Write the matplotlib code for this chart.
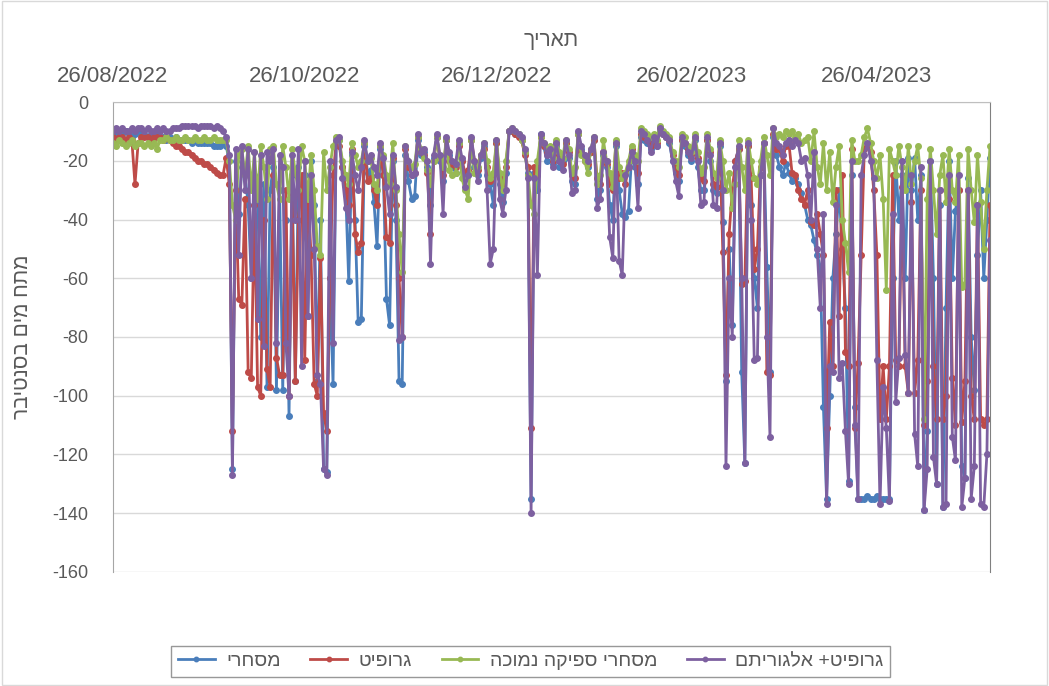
import matplotlib
matplotlib.use('Agg')
import matplotlib.pyplot as plt
import matplotlib.dates as mdates
import pandas as pd

plt.rcParams['font.family'] = ['Liberation Sans', 'DejaVu Sans']
plt.rcParams['axes.unicode_minus'] = False

# daily readings, 26/08/2022 .. 01/06/2023
dates = pd.date_range('2022-08-26', periods=280, freq='D')

# מסחרי
commercial = [
    -11, -11, -12, -11, -10, -11, -12, -11, -10, -11,
    -11, -12, -11, -12, -11, -12, -12, -13, -12, -13,
    -12, -13, -13, -13, -13, -14, -13, -14, -14, -14,
    -14, -14, -15, -15, -15, -14, -15, -20, -125, -20,
    -38, -22, -25, -35, -60, -25, -30, -80, -28, -97,
    -30, -22, -98, -30, -98, -40, -107, -25, -95, -22,
    -30, -25, -73, -20, -35, -95, -40, -125, -126, -60,
    -96, -14, -13, -22, -30, -61, -18, -40, -75, -74,
    -15, -24, -23, -34, -49, -16, -25, -67, -76, -20,
    -40, -95, -96, -18, -27, -33, -32, -13, -18, -17,
    -22, -35, -19, -12, -20, -27, -13, -18, -22, -24,
    -14, -20, -26, -25, -13, -22, -25, -19, -15, -25,
    -28, -35, -14, -28, -34, -24, -10, -10, -11, -11,
    -13, -17, -24, -135, -24, -30, -11, -15, -20, -17,
    -21, -15, -22, -20, -14, -19, -27, -28, -11, -16,
    -19, -22, -17, -13, -33, -30, -18, -22, -35, -40,
    -15, -30, -38, -39, -37, -18, -22, -28, -12, -13,
    -14, -16, -13, -15, -10, -11, -12, -14, -20, -24,
    -27, -13, -15, -18, -20, -13, -22, -30, -30, -13,
    -20, -30, -31, -15, -41, -95, -50, -76, -20, -16,
    -92, -123, -15, -35, -60, -70, -25, -14, -56, -92,
    -12, -18, -22, -25, -21, -24, -27, -26, -28, -31,
    -35, -40, -42, -47, -52, -56, -104, -135, -100, -60,
    -45, -30, -50, -70, -129, -25, -104, -135, -135, -135,
    -134, -135, -135, -134, -135, -135, -135, -135, -60, -20,
    -40, -25, -60, -19, -30, -19, -40, -25, -139, -112,
    -20, -60, -130, -35, -138, -70, -20, -60, -37, -30,
    -124, -128, -26, -80, -98, -52, -30, -60, -40, -19,
]

# גרופיט
graphite = [
    -12, -13, -12, -12, -13, -12, -13, -28, -14, -12,
    -12, -12, -13, -12, -12, -12, -13, -12, -13, -14,
    -15, -15, -16, -17, -17, -18, -19, -20, -20, -21,
    -21, -22, -23, -24, -25, -25, -19, -28, -112, -30,
    -67, -69, -33, -92, -94, -35, -97, -100, -40, -91,
    -97, -25, -87, -93, -93, -30, -100, -32, -95, -40,
    -25, -88, -30, -52, -96, -100, -53, -106, -112, -60,
    -25, -14, -15, -22, -30, -35, -16, -45, -51, -48,
    -14, -27, -26, -30, -35, -15, -25, -46, -48, -19,
    -35, -60, -80, -16, -22, -25, -24, -12, -17, -18,
    -24, -45, -20, -12, -19, -25, -13, -20, -21, -22,
    -15, -20, -24, -23, -13, -20, -23, -18, -16, -22,
    -27, -25, -14, -26, -28, -22, -10, -10, -11, -12,
    -13, -18, -22, -111, -22, -25, -12, -15, -17, -16,
    -20, -14, -18, -21, -14, -17, -25, -26, -11, -17,
    -20, -21, -17, -13, -26, -28, -17, -21, -28, -30,
    -14, -26, -24, -28, -22, -16, -20, -24, -11, -12,
    -13, -15, -12, -14, -9, -11, -12, -13, -18, -22,
    -25, -13, -14, -16, -18, -12, -19, -26, -27, -13,
    -17, -28, -29, -14, -51, -93, -45, -30, -20, -16,
    -62, -61, -15, -26, -57, -50, -22, -14, -92, -93,
    -11, -16, -16, -20, -15, -14, -24, -25, -30, -33,
    -35, -30, -41, -42, -38, -45, -52, -111, -75, -90,
    -30, -73, -25, -85, -90, -16, -111, -89, -52, -16,
    -15, -17, -30, -52, -108, -90, -108, -90, -25, -88,
    -90, -29, -90, -99, -34, -99, -88, -30, -110, -95,
    -28, -90, -108, -30, -108, -100, -33, -94, -110, -30,
    -109, -95, -30, -100, -108, -35, -108, -110, -108, -35,
]

# מסחרי ספיקה נמוכה
low_flow = [
    -14, -15, -13, -14, -15, -14, -13, -15, -14, -14,
    -15, -14, -15, -14, -16, -13, -13, -12, -13, -13,
    -12, -13, -13, -12, -13, -13, -12, -13, -13, -12,
    -13, -13, -12, -13, -13, -13, -13, -20, -35, -40,
    -18, -16, -25, -15, -30, -17, -33, -15, -22, -33,
    -16, -15, -28, -33, -15, -22, -33, -16, -24, -30,
    -15, -20, -33, -18, -30, -49, -52, -17, -30, -22,
    -15, -12, -13, -20, -25, -28, -14, -18, -22, -20,
    -14, -20, -19, -28, -30, -15, -18, -25, -28, -14,
    -30, -45, -58, -15, -20, -22, -21, -12, -16, -19,
    -23, -28, -20, -12, -19, -22, -13, -23, -25, -24,
    -14, -26, -30, -33, -13, -24, -22, -18, -14, -20,
    -26, -24, -13, -24, -30, -20, -10, -9, -10, -11,
    -13, -17, -25, -35, -38, -20, -12, -14, -16, -15,
    -19, -13, -17, -19, -13, -16, -24, -22, -11, -18,
    -20, -24, -16, -12, -28, -25, -13, -20, -24, -29,
    -13, -22, -26, -24, -20, -15, -18, -20, -9, -10,
    -11, -12, -11, -13, -8, -10, -11, -12, -17, -20,
    -22, -11, -12, -15, -17, -11, -17, -24, -22, -11,
    -16, -24, -26, -13, -20, -30, -24, -36, -28, -13,
    -22, -30, -13, -20, -26, -28, -20, -12, -18, -25,
    -9, -12, -11, -12, -10, -11, -10, -12, -11, -14,
    -13, -12, -20, -10, -22, -28, -14, -30, -17, -34,
    -22, -15, -40, -48, -58, -13, -20, -20, -18, -12,
    -9, -14, -20, -26, -18, -33, -64, -16, -20, -25,
    -15, -22, -30, -15, -28, -20, -15, -26, -108, -33,
    -16, -30, -45, -25, -18, -34, -16, -30, -34, -18,
    -63, -62, -16, -30, -41, -18, -34, -50, -30, -15,
]

# גרופיט+ אלגוריתם
graphite_algo = [
    -10, -9, -10, -9, -10, -10, -9, -10, -9, -9,
    -10, -9, -10, -10, -9, -10, -9, -10, -10, -9,
    -9, -9, -8, -8, -8, -8, -8, -9, -8, -8,
    -8, -8, -9, -8, -9, -10, -12, -18, -127, -16,
    -52, -15, -30, -16, -60, -17, -74, -18, -83, -17,
    -20, -16, -82, -18, -22, -82, -100, -18, -40, -16,
    -90, -20, -73, -25, -50, -93, -96, -125, -127, -20,
    -82, -13, -12, -26, -36, -40, -17, -25, -30, -22,
    -13, -20, -18, -22, -25, -14, -19, -29, -38, -18,
    -29, -81, -80, -15, -20, -25, -24, -11, -17, -16,
    -20, -55, -18, -11, -18, -38, -12, -17, -20, -21,
    -13, -19, -29, -25, -12, -20, -27, -18, -14, -30,
    -55, -50, -13, -33, -38, -30, -10, -9, -10, -11,
    -12, -16, -26, -140, -26, -59, -11, -14, -18, -16,
    -22, -14, -20, -23, -13, -18, -31, -30, -10, -15,
    -18, -20, -16, -12, -36, -33, -17, -20, -46, -53,
    -14, -54, -59, -25, -22, -17, -20, -36, -10, -11,
    -13, -17, -12, -15, -9, -11, -12, -13, -20, -27,
    -32, -12, -14, -17, -19, -12, -20, -35, -34, -12,
    -18, -35, -36, -14, -30, -124, -60, -80, -22, -15,
    -60, -123, -14, -40, -88, -87, -25, -14, -80, -114,
    -9, -14, -15, -18, -14, -13, -15, -13, -14, -20,
    -19, -25, -40, -17, -50, -70, -38, -137, -90, -92,
    -35, -94, -89, -112, -130, -20, -110, -135, -25, -18,
    -14, -20, -26, -88, -137, -97, -111, -136, -38, -102,
    -87, -20, -86, -99, -25, -113, -124, -22, -139, -125,
    -20, -121, -130, -30, -138, -137, -25, -114, -122, -25,
    -138, -128, -30, -135, -124, -35, -137, -138, -120, -47,
]

series_names = ['מסחרי', 'גרופיט', 'מסחרי ספיקה נמוכה', 'גרופיט+ אלגוריתם']
series_colors = ['#4A7EBB', '#BE4B48', '#98B954', '#7D60A0']
tick_dates = ['2022-08-26', '2022-10-26', '2022-12-26', '2023-02-26', '2023-04-26']
x_title = 'תאריך'
y_title = 'מתח מים בסנטיבר'

txt = '#595959'

fig = plt.figure(figsize=(10.49, 6.86), dpi=100)
ax = fig.add_axes([0.1077, 0.1662, 0.8361, 0.6851])

for vals, name, col in zip([commercial, graphite, low_flow, graphite_algo], series_names, series_colors):
    # hebrew is drawn left-to-right by matplotlib, so reverse it for display
    ax.plot(dates, vals, color=col, lw=2, marker='o', markersize=4, label=name[::-1])

ax.set_ylim(-160, 0)
ax.set_yticks(range(-160, 1, 20))
ax.set_xlim(pd.Timestamp('2022-08-26'), pd.Timestamp('2023-06-01'))
ax.set_xticks(pd.to_datetime(tick_dates))
ax.xaxis.set_major_formatter(mdates.DateFormatter('%d/%m/%Y'))
ax.xaxis.tick_top()
ax.xaxis.set_label_position('top')
ax.tick_params(axis='both', length=0, colors=txt)
ax.tick_params(axis='x', labelsize=16, pad=11)
ax.tick_params(axis='y', labelsize=13, pad=18)

ax.grid(axis='y', color='#d9d9d9', lw=1)
ax.set_axisbelow(True)
ax.spines['top'].set_color('#bfbfbf')
ax.spines['left'].set_color('#a6a6a6')
ax.spines['right'].set_color('#808080')
ax.spines['right'].set_linewidth(0.8)
ax.spines['bottom'].set_visible(False)

ax.set_xlabel(x_title[::-1], fontsize=15, color=txt, labelpad=14)
ax.set_ylabel(y_title[::-1], fontsize=15, color=txt, labelpad=14)

leg = fig.legend(loc='center', bbox_to_anchor=(0.506, 0.036), ncol=4, fontsize=14,
                 frameon=True, fancybox=False, handlelength=1.9, handletextpad=0.6,
                 columnspacing=1.5, borderpad=0.35, markerscale=0.8)
leg.get_frame().set_edgecolor('#7f7f7f')
leg.get_frame().set_linewidth(1)
for t in leg.get_texts():
    t.set_color(txt)

fig.patches.append(plt.Rectangle((0.002, 0.002), 0.996, 0.996, transform=fig.transFigure,
                                 fill=False, edgecolor='#d9d9d9', lw=1))

fig.savefig('out.png', dpi=100)
